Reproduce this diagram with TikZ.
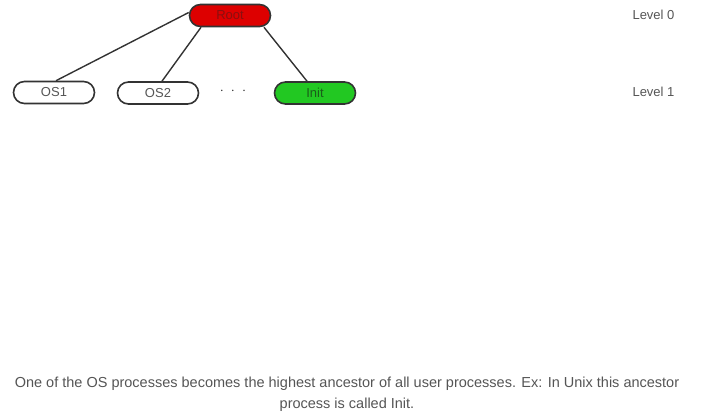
\documentclass[tikz,border=0pt]{standalone}
\usepackage{fontspec}
\setmainfont{Liberation Sans}
\definecolor{edge}{HTML}{333333}
\definecolor{txt}{HTML}{555555}
\definecolor{rootred}{HTML}{DD0000}
\definecolor{roottxt}{HTML}{8A0F0F}
\definecolor{initgreen}{HTML}{22C822}
\definecolor{inittxt}{HTML}{1A5E1A}
\begin{document}
\begin{tikzpicture}[x=1pt,y=-1pt,
  pbox/.style={draw=edge, line width=1.6pt, rounded corners=11pt, minimum width=81pt, minimum height=22pt, inner sep=0pt, font=\fontsize{13}{15}\selectfont, text=txt},
  link/.style={draw=edge, line width=1.4pt},
  lvl/.style={font=\fontsize{13}{15}\selectfont, text=txt, anchor=west}]
\useasboundingbox (0,0) rectangle (701,417);
\node[pbox, fill=rootred, text=roottxt] (root) at (230,15.5) {Root};
\node[pbox, fill=white] (os1) at (54,92.5) {OS1};
\node[pbox, fill=white] (os2) at (158,93) {OS2};
\node[pbox, fill=initgreen, text=inittxt] (init) at (315,93) {Init};
\node[font=\fontsize{14}{16}\selectfont, text=edge] (dots) at (233,91) {$\cdot\ \cdot\ \cdot$};
\node[lvl] (l0) at (629,15) {Level 0};
\node[lvl] (l1) at (629,92) {Level 1};
\draw[link] ([yshift=3pt]root.west) -- ([xshift=2pt]os1.north);
\draw[link] ([xshift=-29pt]root.south) -- ([xshift=4pt]os2.north);
\draw[link] ([xshift=34pt]root.south) -- ([xshift=-8pt]init.north);
\node[font=\fontsize{14.5}{21}\selectfont, text=txt, align=center] (cap) at (347,394) {One of the OS processes becomes the highest ancestor of all user processes. Ex: In Unix this ancestor\\process is called Init.};
\end{tikzpicture}
\end{document}
